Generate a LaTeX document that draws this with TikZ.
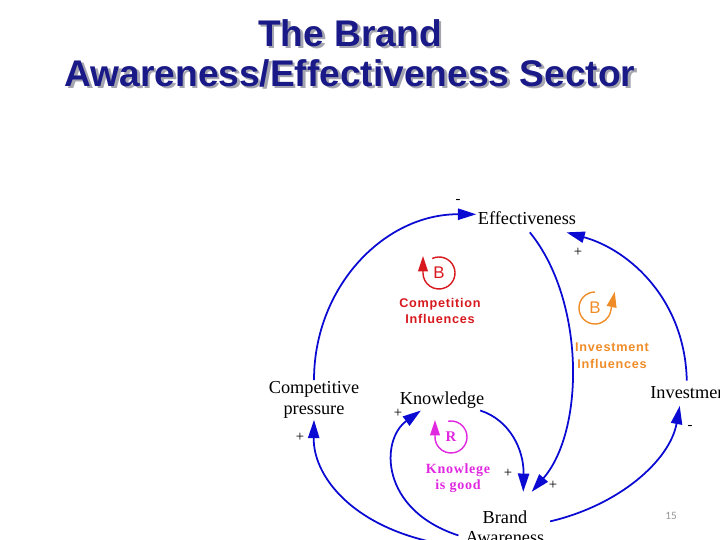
\documentclass[tikz,border=0pt]{standalone}
\usepackage{fontspec}
\setmainfont{Liberation Serif}
\newfontfamily\headfont{Liberation Sans}
\newfontfamily\loopfont[LetterSpace=6]{Liberation Sans}
\newfontfamily\knowfont[LetterSpace=5]{Liberation Serif}
\newfontfamily\pagefont{Carlito}
\usetikzlibrary{arrows.meta}

\definecolor{linkblue}{RGB}{10,10,210}
\definecolor{headblue}{RGB}{25,25,135}
\definecolor{headshade}{RGB}{165,165,175}
\definecolor{loopred}{RGB}{215,25,30}
\definecolor{looporange}{RGB}{240,140,40}
\definecolor{loopmagenta}{RGB}{225,40,225}
\definecolor{pagegray}{RGB}{150,150,150}

\tikzset{
  var/.style={font=\fontsize{13}{14.5}\selectfont, align=center, inner sep=1pt},
  sign/.style={font=\fontsize{10.5}{12}\selectfont, inner sep=0pt},
  link/.style={draw=linkblue, line width=1.25pt, -{Triangle[length=13pt,width=8pt]}},
  loopmark/.style={line width=1pt, -{Triangle[length=11pt,width=7pt]}},
  looplabel/.style={font=\loopfont\bfseries\fontsize{9}{12}\selectfont, align=center},
  headline/.style={font=\headfont\bfseries\fontsize{26.4}{30}\selectfont, text=headblue, anchor=base},
}

\begin{document}
\begin{tikzpicture}[x=0.25mm, y=-0.25mm]
  \useasboundingbox (0,0) rectangle (720,540);
  \clip (0,0) rectangle (720,540);

  % title with shadow
  \node[headline, text=headshade] (head1s) at (352.5,48.5) {The Brand};
  \node[headline, text=headshade] (head2s) at (352.5,88.5) {Awareness/Effectiveness Sector};
  \node[headline] (head1) at (350,46) {The Brand};
  \node[headline] (head2) at (350,86) {Awareness/Effectiveness Sector};

  % variables
  \node[var] (eff) at (527,218.5) {Effectiveness};
  \node[var] (comp) at (314,400) {Competitive\\pressure};
  \node[var] (know) at (442,400.5) {Knowledge};
  \node[var] (inv) at (691,392.5) {Investment};
  \node[var] (ba) at (505,527) {Brand\\Awareness};

  % causal links
  \draw[link] (comp.north) .. controls (314,287) and (384,214) .. ([yshift=3pt]eff.west);
  \draw[link] ([xshift=2pt,yshift=-4pt]eff.south) .. controls (585,300) and (585,430) .. ([xshift=19pt,yshift=12pt]ba.north);
  \draw[link] ([xshift=-3pt,yshift=3pt]inv.north) .. controls (685,300) and (630,250) .. ([xshift=-8pt,yshift=-4pt]eff.south east);
  \draw[link] ([xshift=3pt,yshift=4pt]ba.east) .. controls (620,505) and (670,460) .. ([xshift=-8pt,yshift=-4pt]inv.south);
  \draw[link] ([xshift=-4pt]know.south east) .. controls (510,420) and (524,450) .. ([xshift=13pt,yshift=12pt]ba.north);
  \draw[link] ([xshift=-4pt,yshift=-6pt]ba.west) .. controls (380,510) and (380,440) .. ([xshift=-15pt]know.south);
  \draw[link] ([xshift=-3pt,yshift=-14pt]ba.west) .. controls (360,535) and (313,480) .. (comp.south);

  % polarities
  \node[sign] (pol1) at (458,201) {-};
  \node[sign] (pol2) at (578,252) {+};
  \node[sign] (pol3) at (398,413) {+};
  \node[sign] (pol4) at (690,427) {-};
  \node[sign] (pol5) at (300,437) {+};
  \node[sign] (pol6) at (508,473) {+};
  \node[sign] (pol7) at (553,485) {+};

  % loop markers
  \node[text=loopred, font=\headfont\fontsize{12}{14}\selectfont] (loopb1) at (439,273) {B};
  \draw[loopmark, loopred] ([shift={(-115:16)}]loopb1.center) arc[start angle=-115, end angle=180, radius=16] -- ++(0,-17);
  \node[looplabel, text=loopred] (lbl1) at (440,311) {Competition\\Influences};

  \node[text=looporange, font=\headfont\fontsize{12}{14}\selectfont] (loopb2) at (595,308) {B};
  \draw[loopmark, looporange] ([shift={(-90:16)}]loopb2.center) arc[start angle=-90, end angle=-350, radius=16] -- ++(4,-19);
  \node[looplabel, text=looporange] (lbl2) at (612,356) {Investment\\Influences};

  \node[text=loopmagenta, font=\bfseries\fontsize{10.5}{12}\selectfont] (loopr) at (451,437) {R};
  \draw[loopmark, loopmagenta] ([shift={(-100:16)}]loopr.center) arc[start angle=-100, end angle=180, radius=16] -- ++(0,-17);
  \node[text=loopmagenta, font=\knowfont\bfseries\fontsize{10}{11.3}\selectfont, align=center] (lbl3) at (458,478) {Knowlege\\is good};

  \node[text=pagegray, font=\pagefont\fontsize{8}{9}\selectfont] (pageno) at (671,516) {15};
\end{tikzpicture}
\end{document}
